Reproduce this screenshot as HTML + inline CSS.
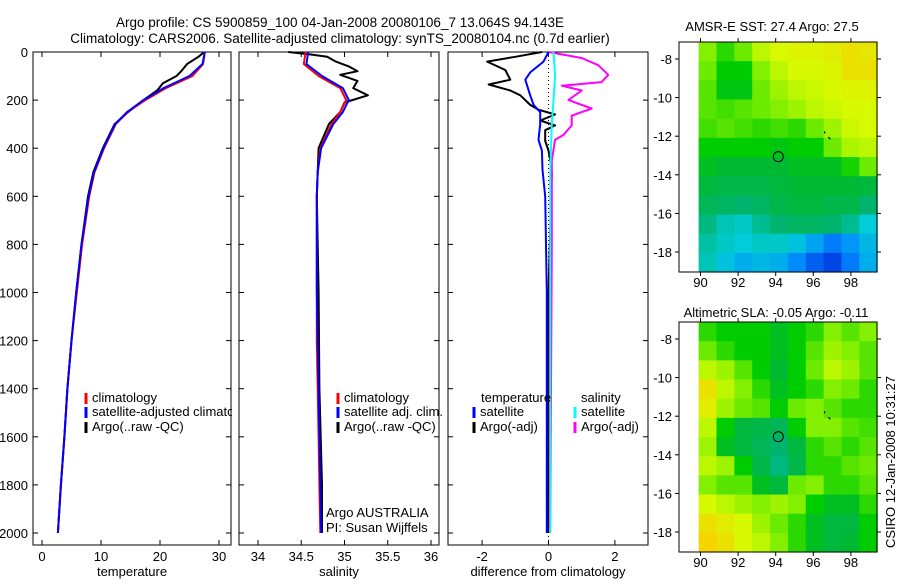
<!DOCTYPE html>
<html><head><meta charset="utf-8"><style>
body{margin:0;background:#fff}
svg text{font-family:"Liberation Sans",sans-serif;font-size:13px;fill:#000}
</style></head><body>
<svg id="fig" width="900" height="580" xmlns="http://www.w3.org/2000/svg">
<text x="340" y="27" text-anchor="middle" style="font-size:13.5px">Argo profile: CS 5900859_100 04-Jan-2008 20080106_7 13.064S 94.143E</text>
<text x="340" y="43" text-anchor="middle" style="font-size:13.5px">Climatology: CARS2006. Satellite-adjusted climatology: synTS_20080104.nc (0.7d earlier)</text>
<g id="plots"></g>
<text x="772" y="31" text-anchor="middle">AMSR-E SST: 27.4 Argo: 27.5</text>
<text x="776" y="317" text-anchor="middle">Altimetric SLA: -0.05 Argo: -0.11</text>
<text transform="translate(895,462) rotate(-90)" text-anchor="middle">CSIRO 12-Jan-2008 10:31:27</text>
</svg>
<script>
// ---------- data ----------
const depths = [0,50,100,150,200,250,300,400,500,600,800,1000,1200,1400,1600,1800,2000];
const tempClim = [27.6,27.3,25.5,21,17.5,14.5,12.5,10.5,8.9,8,6.8,5.9,5,4.3,3.8,3.2,2.7];
const tempSat = [27.6,27.2,25.0,20.6,17.2,14.4,12.4,10.4,8.8,7.9,6.7,5.8,5,4.3,3.8,3.2,2.7];
const argoTDepth = [0,20,50,80,100,130,160,200,250,300,400,500,600,800,1000,1200,1400,1600,1800,2000];
const argoTemp = [27.5,26.5,24.6,23.6,22.8,20.5,19.5,17.2,14.6,12.3,10.3,8.7,7.8,6.7,5.8,5.0,4.3,3.8,3.2,2.7];
const salClim = [34.55,34.53,34.7,34.95,35.02,34.95,34.85,34.72,34.69,34.68,34.68,34.68,34.68,34.69,34.7,34.71,34.72];
const salSat = [34.58,34.56,34.74,34.98,35.05,34.98,34.87,34.73,34.69,34.68,34.68,34.68,34.69,34.7,34.71,34.72,34.73];
const argoSDepth = [0,10,20,40,60,80,95,120,150,180,210,250,300,400,600,1000,1400,1800,2000];
const argoSal = [34.35,34.6,34.8,34.9,35.05,35.15,34.95,35.15,35.1,35.27,35.0,34.95,34.82,34.7,34.68,34.7,34.71,34.74,34.74];
const dTempArgoDepth = [0,20,40,75,115,135,160,180,200,220,240,260,285,305,325,370,410,450,500,1000,1500,2000];
const dTempArgo = [-0.2,-1.0,-1.85,-1.3,-1.15,-1.8,-1.15,-0.85,-0.7,-0.55,-0.3,0.2,-0.25,0.2,-0.1,-0.1,0,0.05,0.1,0.0,0.0,0];
const dTempSatDepth = [0,40,85,115,180,220,250,300,365,410,490,600,1000,2000];
const dTempSat = [0,-0.15,-0.55,-0.7,-0.55,-0.45,-0.25,-0.25,-0.3,-0.2,-0.18,-0.1,-0.05,-0.05];
const dSalSatDepth = [0,100,200,300,500,1000,2000];
const dSalSat = [0.15,0.2,0.15,0.1,0.05,0.05,0.05];
const dSalArgoDepth = [0,25,55,95,125,140,160,200,235,265,305,345,365,450,800,2000];
const dSalArgo = [0,1.0,1.5,1.8,1.6,0.4,1.0,0.6,1.3,0.7,0.7,0.45,0.2,0.1,0.1,0.05];
const depthTicks = [0,200,400,600,800,1000,1200,1400,1600,1800,2000];
const tempTicks = [0,10,20,30];
const salTicks = ["34","34.5","35","35.5","36"];
const diffTicks = [-2,0,2];
const lonTicks = [90,92,94,96,98];
const latTicks = [-8,-10,-12,-14,-16,-18];
const sstGrid = [
[.56,.52,.55,.60,.62,.63,.63,.64,.66,.65],
[.55,.50,.50,.56,.60,.62,.62,.63,.66,.66],
[.54,.49,.49,.55,.58,.60,.61,.62,.63,.63],
[.54,.53,.54,.55,.56,.58,.60,.61,.62,.62],
[.53,.54,.53,.52,.53,.52,.55,.58,.61,.62],
[.50,.50,.50,.50,.49,.50,.50,.55,.59,.60],
[.48,.47,.47,.47,.47,.48,.48,.48,.51,.55],
[.46,.45,.45,.45,.46,.47,.47,.47,.47,.46],
[.44,.43,.42,.43,.45,.46,.46,.45,.45,.42],
[.41,.38,.37,.40,.42,.43,.43,.42,.40,.36],
[.39,.37,.36,.37,.37,.35,.32,.28,.31,.34],
[.38,.35,.33,.34,.33,.30,.25,.22,.28,.33]];
const slaGrid = [
[.52,.50,.50,.50,.48,.50,.52,.56,.54,.56],
[.55,.52,.50,.50,.48,.50,.54,.58,.56,.54],
[.60,.58,.54,.50,.47,.50,.55,.60,.58,.54],
[.66,.60,.56,.52,.48,.50,.52,.56,.55,.52],
[.64,.58,.55,.54,.50,.55,.56,.54,.52,.52],
[.60,.50,.46,.45,.44,.50,.56,.56,.54,.53],
[.58,.48,.46,.44,.42,.46,.52,.54,.52,.54],
[.60,.58,.50,.45,.41,.45,.52,.52,.54,.55],
[.56,.54,.54,.48,.46,.55,.56,.52,.52,.54],
[.62,.60,.58,.56,.58,.56,.50,.48,.48,.52],
[.66,.64,.62,.58,.55,.52,.48,.46,.46,.50],
[.68,.66,.62,.60,.56,.52,.48,.46,.47,.50]];
const floatPos = [94.14,-13.06];

// ---------- drawing ----------
const NS="http://www.w3.org/2000/svg";
const root=document.getElementById('plots');
function mk(tag,attrs,parent){const e=document.createElementNS(NS,tag);for(const k in attrs)e.setAttribute(k,attrs[k]);(parent||root).appendChild(e);return e;}
const TOP=52,BOT=545;
const yD=d=>52+d*0.2405;
function panel(name,x0,x1,xs,ticks,labels,xlabel,showY){
  const g=mk('g',{});
  
  
  mk('rect',{x:x0,y:TOP,width:x1-x0,height:BOT-TOP,fill:'none',stroke:'#000','stroke-width':1},g);
  ticks.forEach((t,i)=>{const x=xs(+t);
    mk('line',{x1:x,x2:x,y1:BOT,y2:BOT-5,stroke:'#000'},g);
    mk('line',{x1:x,x2:x,y1:TOP,y2:TOP+5,stroke:'#000'},g);
    const tx=mk('text',{x:x,y:561,'text-anchor':'middle'},g);tx.textContent=labels[i];
    
    });
  depthTicks.forEach(d=>{const y=yD(d);
    mk('line',{x1:x0,x2:x0+5,y1:y,y2:y,stroke:'#000'},g);
    mk('line',{x1:x1,x2:x1-5,y1:y,y2:y,stroke:'#000'},g);
    if(showY){const tx=mk('text',{x:28,y:y+5,'text-anchor':'end'},g);tx.textContent=d;
      
      }});
  const xl=mk('text',{x:(x0+x1)/2,y:576,'text-anchor':'middle'},g);xl.textContent=xlabel;
  
  
  return g;
}
function line(g,ds,vs,xs,color,w,name){
  const p=ds.map((d,i)=>xs(vs[i]).toFixed(1)+','+yD(d).toFixed(1)).join(' ');
  const l=mk('polyline',{points:p,fill:'none',stroke:color,'stroke-width':w,'stroke-linejoin':'round'},g);
  
  
}
function legend(g,x,y,color,text){
  if(color)mk('line',{x1:x,x2:x,y1:y-9,y2:y+2,stroke:color,'stroke-width':3},g);
  const t=mk('text',{x:color?x+6:x,y:y},g);t.textContent=text;
  
  
}
// panel 1
const xT=v=>42+v*5.9;
const g1=panel('temperature-panel',33,231,xT,tempTicks,tempTicks.map(String),'temperature',true);
line(g1,argoTDepth,argoTemp,xT,'#000',2,'argo-temperature-line');
line(g1,depths,tempClim,xT,'#f00',2,'climatology-temperature-line');
line(g1,depths,tempSat,xT,'#00f',2,'satellite-temperature-line');
legend(g1,86,402,'#f00','climatology');
legend(g1,86,416,'#00f','satellite-adjusted climatology');
legend(g1,86,431,'#000','Argo(..raw -QC)');
mk('rect',{x:232,y:404,width:100,height:16,fill:'#fff'});
// panel 2
const xS=v=>258+(v-34)*86.5;
const g2=panel('salinity-panel',239,439,xS,salTicks,salTicks,'salinity',false);
line(g2,argoSDepth,argoSal,xS,'#000',2,'argo-salinity-line');
line(g2,depths,salClim,xS,'#f00',2,'climatology-salinity-line');
line(g2,depths,salSat,xS,'#00f',2,'satellite-salinity-line');
legend(g2,338,402,'#f00','climatology');
legend(g2,338,416,'#00f','satellite adj. clim.');
legend(g2,338,431,'#000','Argo(..raw -QC)');
const a1=mk('text',{x:326,y:517},g2);a1.textContent='Argo AUSTRALIA';


const a2=mk('text',{x:326,y:532},g2);a2.textContent='PI: Susan Wijffels';


// panel 3
const xDf=v=>548.5+v*33.2;
const g3=panel('difference-panel',448,648,xDf,diffTicks,diffTicks.map(String),'difference from climatology',false);
mk('line',{x1:xDf(0),x2:xDf(0),y1:TOP,y2:yD(2000)+8,stroke:'#000','stroke-dasharray':'1,3'},g3);
line(g3,dTempArgoDepth,dTempArgo,xDf,'#000',2,'argo-temp-diff-line');
line(g3,dSalArgoDepth,dSalArgo,xDf,'#f0f',2,'argo-sal-diff-line');
line(g3,dTempSatDepth,dTempSat,xDf,'#00f',2,'sat-temp-diff-line');
line(g3,dSalSatDepth,dSalSat,xDf,'#0ff',2,'sat-sal-diff-line');
legend(g3,481,402,null,'temperature');
legend(g3,474,416,'#00f','satellite');
legend(g3,474,431,'#000','Argo(-adj)');
legend(g3,581,402,null,'salinity');
legend(g3,575,416,'#0ff','satellite');
legend(g3,575,431,'#f0f','Argo(-adj)');
// maps
const stops=[[.22,[0,70,230]],[.3,[0,140,255]],[.36,[0,205,215]],[.42,[0,180,110]],[.47,[0,185,50]],[.5,[0,205,0]],[.56,[130,240,0]],[.62,[215,250,0]],[.7,[255,200,0]]];
function cmap(v){if(v<=stops[0][0])return stops[0][1];for(let i=1;i<stops.length;i++){if(v<=stops[i][0]){const[a,ca]=stops[i-1],[b,cb]=stops[i];const t=(v-a)/(b-a);return ca.map((c,k)=>Math.round(c+(cb[k]-c)*t));}}return stops[stops.length-1][1];}
function map(name,top,grid){
  const bot=top+230;
  const g=mk('g',{});
  
  
  const xL=lon=>700.5+(lon-90)*18.8;
  const yL=lat=>top+17+(-8-lat)*19.3;
  const lon0=89.9,lon1=99.4,lat0=-7.12,lat1=-19.04;
  const nr=grid.length,nc=grid[0].length;
  const dl=(lon1-lon0)/nc,dt=(lat0-lat1)/nr;
  grid.forEach((row,r)=>row.forEach((v,c)=>{
    const x=xL(lon0+c*dl),y=yL(lat0-r*dt);
    const cell=mk('rect',{x:x,y:y,width:xL(lon0+(c+1)*dl)-x+0.5,height:yL(lat0-(r+1)*dt)-y+0.5,fill:'rgb('+cmap(v).join(',')+')'},g);
    
    
  }));
  mk('rect',{x:679,y:top,width:198,height:230,fill:'none',stroke:'#000'},g);
  lonTicks.forEach(l=>{const x=xL(l);
    mk('line',{x1:x,x2:x,y1:bot,y2:bot+4,stroke:'#000'},g);
    mk('line',{x1:x,x2:x,y1:top,y2:top-4,stroke:'#000'},g);
    const t=mk('text',{x:x,y:bot+15,'text-anchor':'middle'},g);t.textContent=l;
    
    });
  latTicks.forEach(l=>{const y=yL(l);
    mk('line',{x1:679,x2:675,y1:y,y2:y,stroke:'#000'},g);
    mk('line',{x1:877,x2:881,y1:y,y2:y,stroke:'#000'},g);
    const t=mk('text',{x:672,y:y+5,'text-anchor':'end'},g);t.textContent=l;
    
    });
  const c=mk('circle',{cx:xL(floatPos[0]),cy:yL(floatPos[1]),r:5,fill:'none',stroke:'#000'},g);
  
  
  mk('path',{d:`M${xL(96.6)} ${yL(-11.75)}v2 M${xL(96.8)} ${yL(-12.05)}l2 2`,stroke:'#000','stroke-width':1.2,fill:'none'},g);
}
map('sst-map',42,sstGrid);
map('sla-map',322,slaGrid);
</script>
</body></html>
